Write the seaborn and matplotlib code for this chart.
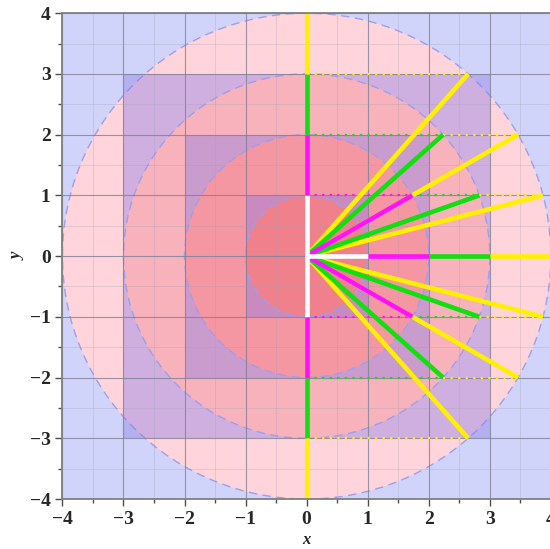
import numpy as np
import matplotlib
matplotlib.use("Agg")
import matplotlib.pyplot as plt
import seaborn as sns
from matplotlib.patches import Rectangle, Circle
from matplotlib.ticker import MultipleLocator

# data
radii = [1, 2, 3, 4]
half_sides = [1, 2, 3]
levels = [1, 2, 3]
ring_colors = ["#ffffff", "#ff10ff", "#10e010", "#fff000"]
circle_colors = ["#f0808c", "#f596a3", "#f8b2bc", "#ffd4da"]
ticks = [-4, -3, -2, -1, 0, 1, 2, 3, 4]

background = "#d0d4fa"
square_color = "#8c7de6"
edge_color = (0.62, 0.62, 0.92)

sns.set_style("ticks")
plt.rcParams["font.family"] = ["Liberation Serif", "DejaVu Serif"]

fig = plt.figure(figsize=(5.5, 5.49), dpi=100)
ax = fig.add_axes([0.1135, 0.091, 0.888, 0.885])
ax.set_facecolor(background)

# circles from big to small, each square of the same size laid over the circle outside it
for k in range(len(radii) - 1, -1, -1):
    r = radii[k]
    ax.add_patch(Circle((0, 0), r, facecolor=circle_colors[k],
                        edgecolor="none", zorder=1))
    ax.add_patch(Circle((0, 0), r, facecolor="none", edgecolor=edge_color,
                        lw=1.0, ls=(0, (6, 4)), zorder=1))
    if k > 0:
        s = half_sides[k - 1]
        ax.add_patch(Rectangle((-s, -s), 2 * s, 2 * s, facecolor=square_color,
                               alpha=0.42, edgecolor="none", zorder=1))

# segments along the axes
for i, r in enumerate(radii):
    c = ring_colors[i]
    lo = r - 1
    ax.plot([lo, r], [0, 0], color=c, lw=3.3, zorder=4, solid_capstyle="butt")
    ax.plot([0, 0], [lo, r], color=c, lw=3.3, zorder=4, solid_capstyle="butt")
    ax.plot([0, 0], [-lo, -r], color=c, lw=3.3, zorder=4, solid_capstyle="butt")

# dotted levels and rays to the circles
for y in levels:
    prev = 0.0
    for i, r in enumerate(radii):
        if r <= y:
            continue
        xe = np.sqrt(r ** 2 - y ** 2)
        c = ring_colors[i]
        for sgn in (1, -1):
            ax.plot([prev, xe], [sgn * y, sgn * y], color=c, lw=1.6,
                    ls=(0, (1, 2.4)), zorder=3)
        prev = xe

for i in range(len(radii) - 1, 0, -1):
    r = radii[i]
    c = ring_colors[i]
    for y in levels:
        if r <= y:
            continue
        xe = np.sqrt(r ** 2 - y ** 2)
        for sgn in (1, -1):
            ax.plot([0, xe], [0, sgn * y], color=c, lw=3.3, zorder=3.5,
                    solid_capstyle="butt")

ax.set_xlim(-4, 4)
ax.set_ylim(-4, 4)
ax.set_xticks(ticks)
ax.set_yticks(ticks)
ax.xaxis.set_minor_locator(MultipleLocator(0.5))
ax.yaxis.set_minor_locator(MultipleLocator(0.5))

ax.set_axisbelow(False)
ax.grid(True, which="major", color=(0.5, 0.5, 0.58), lw=0.8, alpha=0.8)
ax.grid(True, which="minor", color=(0.62, 0.62, 0.7), lw=0.5, alpha=0.4)
for gl in ax.get_xgridlines() + ax.get_ygridlines():
    gl.set_zorder(2)

for sp in ax.spines.values():
    sp.set_color((0.5, 0.5, 0.5))
    sp.set_linewidth(1.3)
    sp.set_zorder(5)

ax.tick_params(which="major", direction="out", length=5, width=1,
               color=(0.3, 0.3, 0.3), labelsize=14)
ax.tick_params(which="minor", direction="out", length=3, width=1,
               color=(0.3, 0.3, 0.3))
for lab in ax.get_xticklabels() + ax.get_yticklabels():
    lab.set_fontweight("bold")

ax.set_xlabel("x", fontsize=12, fontstyle="italic", fontweight="bold", labelpad=3)
ax.set_ylabel("y", fontsize=12, fontstyle="italic", fontweight="bold", labelpad=3)

fig.savefig("out.png", dpi=100)
